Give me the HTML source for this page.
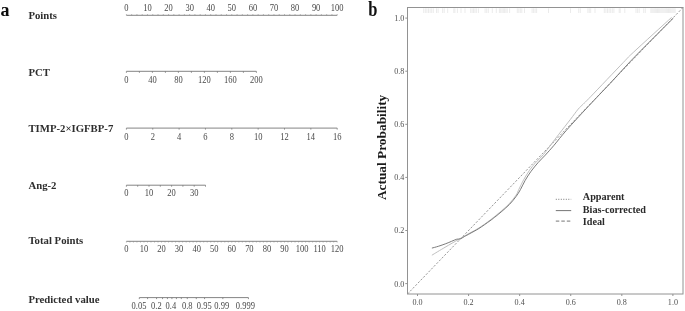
<!DOCTYPE html>
<html><head><meta charset="utf-8"><style>
html,body{margin:0;padding:0;background:#fff;}
body{width:685px;height:311px;overflow:hidden;}
svg{display:block;font-family:"Liberation Serif",serif;filter:grayscale(1) blur(0.35px);}
</style></head><body>
<svg width="685" height="311" viewBox="0 0 685 311">
<rect width="685" height="311" fill="#fff"/>
<text transform="translate(0.60,16.20) scale(1.0,1.03)" font-size="18" text-anchor="start" font-weight="bold" fill="#0a0a0a" >a</text>
<text transform="translate(368.20,15.80) scale(1.0,1.22)" font-size="16.5" text-anchor="start" font-weight="bold" fill="#111" >b</text>
<text transform="translate(28.40,18.80) scale(1.0,1.05)" font-size="10.75" text-anchor="start" font-weight="bold" fill="#2e2e2e" >Points</text>
<text transform="translate(28.40,76.20) scale(1.0,1.05)" font-size="10.75" text-anchor="start" font-weight="bold" fill="#2e2e2e" >PCT</text>
<text transform="translate(28.40,131.80) scale(1.0,1.05)" font-size="10.75" text-anchor="start" font-weight="bold" fill="#2e2e2e" >TIMP-2×IGFBP-7</text>
<text transform="translate(28.40,189.00) scale(1.0,1.05)" font-size="10.75" text-anchor="start" font-weight="bold" fill="#2e2e2e" >Ang-2</text>
<text transform="translate(28.40,244.40) scale(1.0,1.05)" font-size="10.75" text-anchor="start" font-weight="bold" fill="#2e2e2e" >Total Points</text>
<text transform="translate(28.40,302.70) scale(1.0,1.05)" font-size="10.75" text-anchor="start" font-weight="bold" fill="#2e2e2e" >Predicted value</text>
<line x1="126.40" y1="15.30" x2="337.20" y2="15.30" stroke="#767676" stroke-width="0.9" />
<line x1="126.40" y1="15.30" x2="126.40" y2="14.10" stroke="#8a8a8a" stroke-width="0.6" />
<line x1="131.67" y1="15.30" x2="131.67" y2="14.10" stroke="#8a8a8a" stroke-width="0.6" />
<line x1="136.94" y1="15.30" x2="136.94" y2="14.10" stroke="#8a8a8a" stroke-width="0.6" />
<line x1="142.21" y1="15.30" x2="142.21" y2="14.10" stroke="#8a8a8a" stroke-width="0.6" />
<line x1="147.48" y1="15.30" x2="147.48" y2="14.10" stroke="#8a8a8a" stroke-width="0.6" />
<line x1="152.75" y1="15.30" x2="152.75" y2="14.10" stroke="#8a8a8a" stroke-width="0.6" />
<line x1="158.02" y1="15.30" x2="158.02" y2="14.10" stroke="#8a8a8a" stroke-width="0.6" />
<line x1="163.29" y1="15.30" x2="163.29" y2="14.10" stroke="#8a8a8a" stroke-width="0.6" />
<line x1="168.56" y1="15.30" x2="168.56" y2="14.10" stroke="#8a8a8a" stroke-width="0.6" />
<line x1="173.83" y1="15.30" x2="173.83" y2="14.10" stroke="#8a8a8a" stroke-width="0.6" />
<line x1="179.10" y1="15.30" x2="179.10" y2="14.10" stroke="#8a8a8a" stroke-width="0.6" />
<line x1="184.37" y1="15.30" x2="184.37" y2="14.10" stroke="#8a8a8a" stroke-width="0.6" />
<line x1="189.64" y1="15.30" x2="189.64" y2="14.10" stroke="#8a8a8a" stroke-width="0.6" />
<line x1="194.91" y1="15.30" x2="194.91" y2="14.10" stroke="#8a8a8a" stroke-width="0.6" />
<line x1="200.18" y1="15.30" x2="200.18" y2="14.10" stroke="#8a8a8a" stroke-width="0.6" />
<line x1="205.45" y1="15.30" x2="205.45" y2="14.10" stroke="#8a8a8a" stroke-width="0.6" />
<line x1="210.72" y1="15.30" x2="210.72" y2="14.10" stroke="#8a8a8a" stroke-width="0.6" />
<line x1="215.99" y1="15.30" x2="215.99" y2="14.10" stroke="#8a8a8a" stroke-width="0.6" />
<line x1="221.26" y1="15.30" x2="221.26" y2="14.10" stroke="#8a8a8a" stroke-width="0.6" />
<line x1="226.53" y1="15.30" x2="226.53" y2="14.10" stroke="#8a8a8a" stroke-width="0.6" />
<line x1="231.80" y1="15.30" x2="231.80" y2="14.10" stroke="#8a8a8a" stroke-width="0.6" />
<line x1="237.07" y1="15.30" x2="237.07" y2="14.10" stroke="#8a8a8a" stroke-width="0.6" />
<line x1="242.34" y1="15.30" x2="242.34" y2="14.10" stroke="#8a8a8a" stroke-width="0.6" />
<line x1="247.61" y1="15.30" x2="247.61" y2="14.10" stroke="#8a8a8a" stroke-width="0.6" />
<line x1="252.88" y1="15.30" x2="252.88" y2="14.10" stroke="#8a8a8a" stroke-width="0.6" />
<line x1="258.15" y1="15.30" x2="258.15" y2="14.10" stroke="#8a8a8a" stroke-width="0.6" />
<line x1="263.42" y1="15.30" x2="263.42" y2="14.10" stroke="#8a8a8a" stroke-width="0.6" />
<line x1="268.69" y1="15.30" x2="268.69" y2="14.10" stroke="#8a8a8a" stroke-width="0.6" />
<line x1="273.96" y1="15.30" x2="273.96" y2="14.10" stroke="#8a8a8a" stroke-width="0.6" />
<line x1="279.23" y1="15.30" x2="279.23" y2="14.10" stroke="#8a8a8a" stroke-width="0.6" />
<line x1="284.50" y1="15.30" x2="284.50" y2="14.10" stroke="#8a8a8a" stroke-width="0.6" />
<line x1="289.77" y1="15.30" x2="289.77" y2="14.10" stroke="#8a8a8a" stroke-width="0.6" />
<line x1="295.04" y1="15.30" x2="295.04" y2="14.10" stroke="#8a8a8a" stroke-width="0.6" />
<line x1="300.31" y1="15.30" x2="300.31" y2="14.10" stroke="#8a8a8a" stroke-width="0.6" />
<line x1="305.58" y1="15.30" x2="305.58" y2="14.10" stroke="#8a8a8a" stroke-width="0.6" />
<line x1="310.85" y1="15.30" x2="310.85" y2="14.10" stroke="#8a8a8a" stroke-width="0.6" />
<line x1="316.12" y1="15.30" x2="316.12" y2="14.10" stroke="#8a8a8a" stroke-width="0.6" />
<line x1="321.39" y1="15.30" x2="321.39" y2="14.10" stroke="#8a8a8a" stroke-width="0.6" />
<line x1="326.66" y1="15.30" x2="326.66" y2="14.10" stroke="#8a8a8a" stroke-width="0.6" />
<line x1="331.93" y1="15.30" x2="331.93" y2="14.10" stroke="#8a8a8a" stroke-width="0.6" />
<line x1="337.20" y1="15.30" x2="337.20" y2="14.10" stroke="#8a8a8a" stroke-width="0.6" />
<text transform="translate(126.40,11.20) scale(1.0,1.2)" font-size="8.5" text-anchor="middle" font-weight="normal" fill="#484848" >0</text>
<text transform="translate(147.48,11.20) scale(1.0,1.2)" font-size="8.5" text-anchor="middle" font-weight="normal" fill="#484848" >10</text>
<text transform="translate(168.56,11.20) scale(1.0,1.2)" font-size="8.5" text-anchor="middle" font-weight="normal" fill="#484848" >20</text>
<text transform="translate(189.64,11.20) scale(1.0,1.2)" font-size="8.5" text-anchor="middle" font-weight="normal" fill="#484848" >30</text>
<text transform="translate(210.72,11.20) scale(1.0,1.2)" font-size="8.5" text-anchor="middle" font-weight="normal" fill="#484848" >40</text>
<text transform="translate(231.80,11.20) scale(1.0,1.2)" font-size="8.5" text-anchor="middle" font-weight="normal" fill="#484848" >50</text>
<text transform="translate(252.88,11.20) scale(1.0,1.2)" font-size="8.5" text-anchor="middle" font-weight="normal" fill="#484848" >60</text>
<text transform="translate(273.96,11.20) scale(1.0,1.2)" font-size="8.5" text-anchor="middle" font-weight="normal" fill="#484848" >70</text>
<text transform="translate(295.04,11.20) scale(1.0,1.2)" font-size="8.5" text-anchor="middle" font-weight="normal" fill="#484848" >80</text>
<text transform="translate(316.12,11.20) scale(1.0,1.2)" font-size="8.5" text-anchor="middle" font-weight="normal" fill="#484848" >90</text>
<text transform="translate(337.20,11.20) scale(1.0,1.2)" font-size="8.5" text-anchor="middle" font-weight="normal" fill="#484848" >100</text>
<line x1="126.40" y1="71.30" x2="256.40" y2="71.30" stroke="#767676" stroke-width="0.9" />
<line x1="126.40" y1="71.30" x2="126.40" y2="72.80" stroke="#767676" stroke-width="0.8" />
<line x1="139.40" y1="71.30" x2="139.40" y2="72.80" stroke="#767676" stroke-width="0.8" />
<line x1="152.40" y1="71.30" x2="152.40" y2="72.80" stroke="#767676" stroke-width="0.8" />
<line x1="165.40" y1="71.30" x2="165.40" y2="72.80" stroke="#767676" stroke-width="0.8" />
<line x1="178.40" y1="71.30" x2="178.40" y2="72.80" stroke="#767676" stroke-width="0.8" />
<line x1="191.40" y1="71.30" x2="191.40" y2="72.80" stroke="#767676" stroke-width="0.8" />
<line x1="204.40" y1="71.30" x2="204.40" y2="72.80" stroke="#767676" stroke-width="0.8" />
<line x1="217.40" y1="71.30" x2="217.40" y2="72.80" stroke="#767676" stroke-width="0.8" />
<line x1="230.40" y1="71.30" x2="230.40" y2="72.80" stroke="#767676" stroke-width="0.8" />
<line x1="243.40" y1="71.30" x2="243.40" y2="72.80" stroke="#767676" stroke-width="0.8" />
<line x1="256.40" y1="71.30" x2="256.40" y2="72.80" stroke="#767676" stroke-width="0.8" />
<text transform="translate(126.40,82.80) scale(1.0,1.2)" font-size="8.5" text-anchor="middle" font-weight="normal" fill="#484848" >0</text>
<text transform="translate(152.40,82.80) scale(1.0,1.2)" font-size="8.5" text-anchor="middle" font-weight="normal" fill="#484848" >40</text>
<text transform="translate(178.40,82.80) scale(1.0,1.2)" font-size="8.5" text-anchor="middle" font-weight="normal" fill="#484848" >80</text>
<text transform="translate(204.40,82.80) scale(1.0,1.2)" font-size="8.5" text-anchor="middle" font-weight="normal" fill="#484848" >120</text>
<text transform="translate(230.40,82.80) scale(1.0,1.2)" font-size="8.5" text-anchor="middle" font-weight="normal" fill="#484848" >160</text>
<text transform="translate(256.40,82.80) scale(1.0,1.2)" font-size="8.5" text-anchor="middle" font-weight="normal" fill="#484848" >200</text>
<line x1="126.40" y1="128.10" x2="337.20" y2="128.10" stroke="#767676" stroke-width="0.9" />
<line x1="126.40" y1="128.10" x2="126.40" y2="129.60" stroke="#767676" stroke-width="0.8" />
<text transform="translate(126.40,139.50) scale(1.0,1.2)" font-size="8.5" text-anchor="middle" font-weight="normal" fill="#484848" >0</text>
<line x1="152.75" y1="128.10" x2="152.75" y2="129.60" stroke="#767676" stroke-width="0.8" />
<text transform="translate(152.75,139.50) scale(1.0,1.2)" font-size="8.5" text-anchor="middle" font-weight="normal" fill="#484848" >2</text>
<line x1="179.10" y1="128.10" x2="179.10" y2="129.60" stroke="#767676" stroke-width="0.8" />
<text transform="translate(179.10,139.50) scale(1.0,1.2)" font-size="8.5" text-anchor="middle" font-weight="normal" fill="#484848" >4</text>
<line x1="205.45" y1="128.10" x2="205.45" y2="129.60" stroke="#767676" stroke-width="0.8" />
<text transform="translate(205.45,139.50) scale(1.0,1.2)" font-size="8.5" text-anchor="middle" font-weight="normal" fill="#484848" >6</text>
<line x1="231.80" y1="128.10" x2="231.80" y2="129.60" stroke="#767676" stroke-width="0.8" />
<text transform="translate(231.80,139.50) scale(1.0,1.2)" font-size="8.5" text-anchor="middle" font-weight="normal" fill="#484848" >8</text>
<line x1="258.15" y1="128.10" x2="258.15" y2="129.60" stroke="#767676" stroke-width="0.8" />
<text transform="translate(258.15,139.50) scale(1.0,1.2)" font-size="8.5" text-anchor="middle" font-weight="normal" fill="#484848" >10</text>
<line x1="284.50" y1="128.10" x2="284.50" y2="129.60" stroke="#767676" stroke-width="0.8" />
<text transform="translate(284.50,139.50) scale(1.0,1.2)" font-size="8.5" text-anchor="middle" font-weight="normal" fill="#484848" >12</text>
<line x1="310.85" y1="128.10" x2="310.85" y2="129.60" stroke="#767676" stroke-width="0.8" />
<text transform="translate(310.85,139.50) scale(1.0,1.2)" font-size="8.5" text-anchor="middle" font-weight="normal" fill="#484848" >14</text>
<line x1="337.20" y1="128.10" x2="337.20" y2="129.60" stroke="#767676" stroke-width="0.8" />
<text transform="translate(337.20,139.50) scale(1.0,1.2)" font-size="8.5" text-anchor="middle" font-weight="normal" fill="#484848" >16</text>
<line x1="126.40" y1="185.20" x2="205.50" y2="185.20" stroke="#767676" stroke-width="0.9" />
<line x1="126.40" y1="185.20" x2="126.40" y2="186.70" stroke="#767676" stroke-width="0.8" />
<line x1="137.70" y1="185.20" x2="137.70" y2="186.70" stroke="#767676" stroke-width="0.8" />
<line x1="149.00" y1="185.20" x2="149.00" y2="186.70" stroke="#767676" stroke-width="0.8" />
<line x1="160.30" y1="185.20" x2="160.30" y2="186.70" stroke="#767676" stroke-width="0.8" />
<line x1="171.60" y1="185.20" x2="171.60" y2="186.70" stroke="#767676" stroke-width="0.8" />
<line x1="182.90" y1="185.20" x2="182.90" y2="186.70" stroke="#767676" stroke-width="0.8" />
<line x1="194.20" y1="185.20" x2="194.20" y2="186.70" stroke="#767676" stroke-width="0.8" />
<line x1="205.50" y1="185.20" x2="205.50" y2="186.70" stroke="#767676" stroke-width="0.8" />
<text transform="translate(126.40,195.90) scale(1.0,1.2)" font-size="8.5" text-anchor="middle" font-weight="normal" fill="#484848" >0</text>
<text transform="translate(149.00,195.90) scale(1.0,1.2)" font-size="8.5" text-anchor="middle" font-weight="normal" fill="#484848" >10</text>
<text transform="translate(171.60,195.90) scale(1.0,1.2)" font-size="8.5" text-anchor="middle" font-weight="normal" fill="#484848" >20</text>
<text transform="translate(194.20,195.90) scale(1.0,1.2)" font-size="8.5" text-anchor="middle" font-weight="normal" fill="#484848" >30</text>
<line x1="126.40" y1="241.30" x2="337.20" y2="241.30" stroke="#767676" stroke-width="0.9" />
<line x1="126.40" y1="241.30" x2="126.40" y2="242.50" stroke="#8a8a8a" stroke-width="0.6" />
<line x1="129.91" y1="241.30" x2="129.91" y2="242.50" stroke="#8a8a8a" stroke-width="0.6" />
<line x1="133.43" y1="241.30" x2="133.43" y2="242.50" stroke="#8a8a8a" stroke-width="0.6" />
<line x1="136.94" y1="241.30" x2="136.94" y2="242.50" stroke="#8a8a8a" stroke-width="0.6" />
<line x1="140.45" y1="241.30" x2="140.45" y2="242.50" stroke="#8a8a8a" stroke-width="0.6" />
<line x1="143.97" y1="241.30" x2="143.97" y2="242.50" stroke="#8a8a8a" stroke-width="0.6" />
<line x1="147.48" y1="241.30" x2="147.48" y2="242.50" stroke="#8a8a8a" stroke-width="0.6" />
<line x1="150.99" y1="241.30" x2="150.99" y2="242.50" stroke="#8a8a8a" stroke-width="0.6" />
<line x1="154.51" y1="241.30" x2="154.51" y2="242.50" stroke="#8a8a8a" stroke-width="0.6" />
<line x1="158.02" y1="241.30" x2="158.02" y2="242.50" stroke="#8a8a8a" stroke-width="0.6" />
<line x1="161.53" y1="241.30" x2="161.53" y2="242.50" stroke="#8a8a8a" stroke-width="0.6" />
<line x1="165.05" y1="241.30" x2="165.05" y2="242.50" stroke="#8a8a8a" stroke-width="0.6" />
<line x1="168.56" y1="241.30" x2="168.56" y2="242.50" stroke="#8a8a8a" stroke-width="0.6" />
<line x1="172.07" y1="241.30" x2="172.07" y2="242.50" stroke="#8a8a8a" stroke-width="0.6" />
<line x1="175.59" y1="241.30" x2="175.59" y2="242.50" stroke="#8a8a8a" stroke-width="0.6" />
<line x1="179.10" y1="241.30" x2="179.10" y2="242.50" stroke="#8a8a8a" stroke-width="0.6" />
<line x1="182.61" y1="241.30" x2="182.61" y2="242.50" stroke="#8a8a8a" stroke-width="0.6" />
<line x1="186.13" y1="241.30" x2="186.13" y2="242.50" stroke="#8a8a8a" stroke-width="0.6" />
<line x1="189.64" y1="241.30" x2="189.64" y2="242.50" stroke="#8a8a8a" stroke-width="0.6" />
<line x1="193.15" y1="241.30" x2="193.15" y2="242.50" stroke="#8a8a8a" stroke-width="0.6" />
<line x1="196.67" y1="241.30" x2="196.67" y2="242.50" stroke="#8a8a8a" stroke-width="0.6" />
<line x1="200.18" y1="241.30" x2="200.18" y2="242.50" stroke="#8a8a8a" stroke-width="0.6" />
<line x1="203.69" y1="241.30" x2="203.69" y2="242.50" stroke="#8a8a8a" stroke-width="0.6" />
<line x1="207.21" y1="241.30" x2="207.21" y2="242.50" stroke="#8a8a8a" stroke-width="0.6" />
<line x1="210.72" y1="241.30" x2="210.72" y2="242.50" stroke="#8a8a8a" stroke-width="0.6" />
<line x1="214.23" y1="241.30" x2="214.23" y2="242.50" stroke="#8a8a8a" stroke-width="0.6" />
<line x1="217.75" y1="241.30" x2="217.75" y2="242.50" stroke="#8a8a8a" stroke-width="0.6" />
<line x1="221.26" y1="241.30" x2="221.26" y2="242.50" stroke="#8a8a8a" stroke-width="0.6" />
<line x1="224.77" y1="241.30" x2="224.77" y2="242.50" stroke="#8a8a8a" stroke-width="0.6" />
<line x1="228.29" y1="241.30" x2="228.29" y2="242.50" stroke="#8a8a8a" stroke-width="0.6" />
<line x1="231.80" y1="241.30" x2="231.80" y2="242.50" stroke="#8a8a8a" stroke-width="0.6" />
<line x1="235.31" y1="241.30" x2="235.31" y2="242.50" stroke="#8a8a8a" stroke-width="0.6" />
<line x1="238.83" y1="241.30" x2="238.83" y2="242.50" stroke="#8a8a8a" stroke-width="0.6" />
<line x1="242.34" y1="241.30" x2="242.34" y2="242.50" stroke="#8a8a8a" stroke-width="0.6" />
<line x1="245.85" y1="241.30" x2="245.85" y2="242.50" stroke="#8a8a8a" stroke-width="0.6" />
<line x1="249.37" y1="241.30" x2="249.37" y2="242.50" stroke="#8a8a8a" stroke-width="0.6" />
<line x1="252.88" y1="241.30" x2="252.88" y2="242.50" stroke="#8a8a8a" stroke-width="0.6" />
<line x1="256.39" y1="241.30" x2="256.39" y2="242.50" stroke="#8a8a8a" stroke-width="0.6" />
<line x1="259.91" y1="241.30" x2="259.91" y2="242.50" stroke="#8a8a8a" stroke-width="0.6" />
<line x1="263.42" y1="241.30" x2="263.42" y2="242.50" stroke="#8a8a8a" stroke-width="0.6" />
<line x1="266.93" y1="241.30" x2="266.93" y2="242.50" stroke="#8a8a8a" stroke-width="0.6" />
<line x1="270.45" y1="241.30" x2="270.45" y2="242.50" stroke="#8a8a8a" stroke-width="0.6" />
<line x1="273.96" y1="241.30" x2="273.96" y2="242.50" stroke="#8a8a8a" stroke-width="0.6" />
<line x1="277.47" y1="241.30" x2="277.47" y2="242.50" stroke="#8a8a8a" stroke-width="0.6" />
<line x1="280.99" y1="241.30" x2="280.99" y2="242.50" stroke="#8a8a8a" stroke-width="0.6" />
<line x1="284.50" y1="241.30" x2="284.50" y2="242.50" stroke="#8a8a8a" stroke-width="0.6" />
<line x1="288.01" y1="241.30" x2="288.01" y2="242.50" stroke="#8a8a8a" stroke-width="0.6" />
<line x1="291.53" y1="241.30" x2="291.53" y2="242.50" stroke="#8a8a8a" stroke-width="0.6" />
<line x1="295.04" y1="241.30" x2="295.04" y2="242.50" stroke="#8a8a8a" stroke-width="0.6" />
<line x1="298.55" y1="241.30" x2="298.55" y2="242.50" stroke="#8a8a8a" stroke-width="0.6" />
<line x1="302.07" y1="241.30" x2="302.07" y2="242.50" stroke="#8a8a8a" stroke-width="0.6" />
<line x1="305.58" y1="241.30" x2="305.58" y2="242.50" stroke="#8a8a8a" stroke-width="0.6" />
<line x1="309.09" y1="241.30" x2="309.09" y2="242.50" stroke="#8a8a8a" stroke-width="0.6" />
<line x1="312.61" y1="241.30" x2="312.61" y2="242.50" stroke="#8a8a8a" stroke-width="0.6" />
<line x1="316.12" y1="241.30" x2="316.12" y2="242.50" stroke="#8a8a8a" stroke-width="0.6" />
<line x1="319.63" y1="241.30" x2="319.63" y2="242.50" stroke="#8a8a8a" stroke-width="0.6" />
<line x1="323.15" y1="241.30" x2="323.15" y2="242.50" stroke="#8a8a8a" stroke-width="0.6" />
<line x1="326.66" y1="241.30" x2="326.66" y2="242.50" stroke="#8a8a8a" stroke-width="0.6" />
<line x1="330.17" y1="241.30" x2="330.17" y2="242.50" stroke="#8a8a8a" stroke-width="0.6" />
<line x1="333.69" y1="241.30" x2="333.69" y2="242.50" stroke="#8a8a8a" stroke-width="0.6" />
<line x1="337.20" y1="241.30" x2="337.20" y2="242.50" stroke="#8a8a8a" stroke-width="0.6" />
<text transform="translate(126.40,252.20) scale(1.0,1.2)" font-size="8.5" text-anchor="middle" font-weight="normal" fill="#484848" >0</text>
<text transform="translate(143.97,252.20) scale(1.0,1.2)" font-size="8.5" text-anchor="middle" font-weight="normal" fill="#484848" >10</text>
<text transform="translate(161.53,252.20) scale(1.0,1.2)" font-size="8.5" text-anchor="middle" font-weight="normal" fill="#484848" >20</text>
<text transform="translate(179.10,252.20) scale(1.0,1.2)" font-size="8.5" text-anchor="middle" font-weight="normal" fill="#484848" >30</text>
<text transform="translate(196.67,252.20) scale(1.0,1.2)" font-size="8.5" text-anchor="middle" font-weight="normal" fill="#484848" >40</text>
<text transform="translate(214.23,252.20) scale(1.0,1.2)" font-size="8.5" text-anchor="middle" font-weight="normal" fill="#484848" >50</text>
<text transform="translate(231.80,252.20) scale(1.0,1.2)" font-size="8.5" text-anchor="middle" font-weight="normal" fill="#484848" >60</text>
<text transform="translate(249.37,252.20) scale(1.0,1.2)" font-size="8.5" text-anchor="middle" font-weight="normal" fill="#484848" >70</text>
<text transform="translate(266.93,252.20) scale(1.0,1.2)" font-size="8.5" text-anchor="middle" font-weight="normal" fill="#484848" >80</text>
<text transform="translate(284.50,252.20) scale(1.0,1.2)" font-size="8.5" text-anchor="middle" font-weight="normal" fill="#484848" >90</text>
<text transform="translate(302.07,252.20) scale(1.0,1.2)" font-size="8.5" text-anchor="middle" font-weight="normal" fill="#484848" >100</text>
<text transform="translate(319.63,252.20) scale(1.0,1.2)" font-size="8.5" text-anchor="middle" font-weight="normal" fill="#484848" >110</text>
<text transform="translate(337.20,252.20) scale(1.0,1.2)" font-size="8.5" text-anchor="middle" font-weight="normal" fill="#484848" >120</text>
<line x1="139.30" y1="297.60" x2="248.45" y2="297.60" stroke="#767676" stroke-width="0.9" />
<line x1="139.30" y1="297.60" x2="139.30" y2="299.10" stroke="#767676" stroke-width="0.8" />
<line x1="147.58" y1="297.60" x2="147.58" y2="299.10" stroke="#767676" stroke-width="0.8" />
<line x1="156.56" y1="297.60" x2="156.56" y2="299.10" stroke="#767676" stroke-width="0.8" />
<line x1="162.54" y1="297.60" x2="162.54" y2="299.10" stroke="#767676" stroke-width="0.8" />
<line x1="167.43" y1="297.60" x2="167.43" y2="299.10" stroke="#767676" stroke-width="0.8" />
<line x1="171.92" y1="297.60" x2="171.92" y2="299.10" stroke="#767676" stroke-width="0.8" />
<line x1="176.42" y1="297.60" x2="176.42" y2="299.10" stroke="#767676" stroke-width="0.8" />
<line x1="181.31" y1="297.60" x2="181.31" y2="299.10" stroke="#767676" stroke-width="0.8" />
<line x1="187.28" y1="297.60" x2="187.28" y2="299.10" stroke="#767676" stroke-width="0.8" />
<line x1="196.27" y1="297.60" x2="196.27" y2="299.10" stroke="#767676" stroke-width="0.8" />
<line x1="204.55" y1="297.60" x2="204.55" y2="299.10" stroke="#767676" stroke-width="0.8" />
<line x1="222.84" y1="297.60" x2="222.84" y2="299.10" stroke="#767676" stroke-width="0.8" />
<line x1="248.45" y1="297.60" x2="248.45" y2="299.10" stroke="#767676" stroke-width="0.8" />
<text transform="translate(139.00,308.90) scale(1.0,1.2)" font-size="8.5" text-anchor="middle" font-weight="normal" fill="#484848" >0.05</text>
<text transform="translate(156.40,308.90) scale(1.0,1.2)" font-size="8.5" text-anchor="middle" font-weight="normal" fill="#484848" >0.2</text>
<text transform="translate(170.90,308.90) scale(1.0,1.2)" font-size="8.5" text-anchor="middle" font-weight="normal" fill="#484848" >0.4</text>
<text transform="translate(187.30,308.90) scale(1.0,1.2)" font-size="8.5" text-anchor="middle" font-weight="normal" fill="#484848" >0.8</text>
<text transform="translate(204.20,308.90) scale(1.0,1.2)" font-size="8.5" text-anchor="middle" font-weight="normal" fill="#484848" >0.95</text>
<text transform="translate(221.70,308.90) scale(1.0,1.2)" font-size="8.5" text-anchor="middle" font-weight="normal" fill="#484848" >0.99</text>
<text transform="translate(245.40,308.90) scale(1.0,1.2)" font-size="8.5" text-anchor="middle" font-weight="normal" fill="#484848" >0.999</text>
<line x1="423.70" y1="8.30" x2="423.70" y2="13.00" stroke="#e6e6e6" stroke-width="0.8" />
<line x1="425.30" y1="8.30" x2="425.30" y2="13.00" stroke="#e6e6e6" stroke-width="0.8" />
<line x1="426.90" y1="8.30" x2="426.90" y2="13.00" stroke="#e6e6e6" stroke-width="0.8" />
<line x1="428.50" y1="8.30" x2="428.50" y2="13.00" stroke="#e6e6e6" stroke-width="0.8" />
<line x1="430.10" y1="8.30" x2="430.10" y2="13.00" stroke="#e6e6e6" stroke-width="0.8" />
<line x1="431.70" y1="8.30" x2="431.70" y2="13.00" stroke="#e6e6e6" stroke-width="0.8" />
<line x1="433.30" y1="8.30" x2="433.30" y2="13.00" stroke="#e6e6e6" stroke-width="0.8" />
<line x1="436.50" y1="8.30" x2="436.50" y2="13.00" stroke="#e6e6e6" stroke-width="0.8" />
<line x1="438.10" y1="8.30" x2="438.10" y2="13.00" stroke="#e6e6e6" stroke-width="0.8" />
<line x1="442.60" y1="8.30" x2="442.60" y2="13.00" stroke="#e6e6e6" stroke-width="0.8" />
<line x1="444.20" y1="8.30" x2="444.20" y2="13.00" stroke="#e6e6e6" stroke-width="0.8" />
<line x1="447.70" y1="8.30" x2="447.70" y2="13.00" stroke="#e6e6e6" stroke-width="0.8" />
<line x1="453.80" y1="8.30" x2="453.80" y2="13.00" stroke="#e6e6e6" stroke-width="0.8" />
<line x1="454.90" y1="8.30" x2="454.90" y2="13.00" stroke="#e6e6e6" stroke-width="0.8" />
<line x1="457.40" y1="8.30" x2="457.40" y2="13.00" stroke="#e6e6e6" stroke-width="0.8" />
<line x1="461.00" y1="8.30" x2="461.00" y2="13.00" stroke="#e6e6e6" stroke-width="0.8" />
<line x1="465.00" y1="8.30" x2="465.00" y2="13.00" stroke="#e6e6e6" stroke-width="0.8" />
<line x1="470.70" y1="8.30" x2="470.70" y2="13.00" stroke="#e6e6e6" stroke-width="0.8" />
<line x1="472.10" y1="8.30" x2="472.10" y2="13.00" stroke="#e6e6e6" stroke-width="0.8" />
<line x1="473.50" y1="8.30" x2="473.50" y2="13.00" stroke="#e6e6e6" stroke-width="0.8" />
<line x1="474.90" y1="8.30" x2="474.90" y2="13.00" stroke="#e6e6e6" stroke-width="0.8" />
<line x1="476.30" y1="8.30" x2="476.30" y2="13.00" stroke="#e6e6e6" stroke-width="0.8" />
<line x1="478.40" y1="8.30" x2="478.40" y2="13.00" stroke="#e6e6e6" stroke-width="0.8" />
<line x1="485.10" y1="8.30" x2="485.10" y2="13.00" stroke="#e6e6e6" stroke-width="0.8" />
<line x1="486.70" y1="8.30" x2="486.70" y2="13.00" stroke="#e6e6e6" stroke-width="0.8" />
<line x1="488.30" y1="8.30" x2="488.30" y2="13.00" stroke="#e6e6e6" stroke-width="0.8" />
<line x1="492.30" y1="8.30" x2="492.30" y2="13.00" stroke="#e6e6e6" stroke-width="0.8" />
<line x1="496.30" y1="8.30" x2="496.30" y2="13.00" stroke="#e6e6e6" stroke-width="0.8" />
<line x1="499.40" y1="8.30" x2="499.40" y2="13.00" stroke="#e6e6e6" stroke-width="0.8" />
<line x1="500.70" y1="8.30" x2="500.70" y2="13.00" stroke="#e6e6e6" stroke-width="0.8" />
<line x1="502.00" y1="8.30" x2="502.00" y2="13.00" stroke="#e6e6e6" stroke-width="0.8" />
<line x1="503.30" y1="8.30" x2="503.30" y2="13.00" stroke="#e6e6e6" stroke-width="0.8" />
<line x1="504.60" y1="8.30" x2="504.60" y2="13.00" stroke="#e6e6e6" stroke-width="0.8" />
<line x1="505.90" y1="8.30" x2="505.90" y2="13.00" stroke="#e6e6e6" stroke-width="0.8" />
<line x1="507.20" y1="8.30" x2="507.20" y2="13.00" stroke="#e6e6e6" stroke-width="0.8" />
<line x1="509.60" y1="8.30" x2="509.60" y2="13.00" stroke="#e6e6e6" stroke-width="0.8" />
<line x1="517.30" y1="8.30" x2="517.30" y2="13.00" stroke="#e6e6e6" stroke-width="0.8" />
<line x1="518.80" y1="8.30" x2="518.80" y2="13.00" stroke="#e6e6e6" stroke-width="0.8" />
<line x1="520.30" y1="8.30" x2="520.30" y2="13.00" stroke="#e6e6e6" stroke-width="0.8" />
<line x1="521.80" y1="8.30" x2="521.80" y2="13.00" stroke="#e6e6e6" stroke-width="0.8" />
<line x1="524.50" y1="8.30" x2="524.50" y2="13.00" stroke="#e6e6e6" stroke-width="0.8" />
<line x1="532.10" y1="8.30" x2="532.10" y2="13.00" stroke="#e6e6e6" stroke-width="0.8" />
<line x1="533.60" y1="8.30" x2="533.60" y2="13.00" stroke="#e6e6e6" stroke-width="0.8" />
<line x1="535.10" y1="8.30" x2="535.10" y2="13.00" stroke="#e6e6e6" stroke-width="0.8" />
<line x1="536.60" y1="8.30" x2="536.60" y2="13.00" stroke="#e6e6e6" stroke-width="0.8" />
<line x1="548.50" y1="8.30" x2="548.50" y2="13.00" stroke="#e6e6e6" stroke-width="0.8" />
<line x1="570.50" y1="8.30" x2="570.50" y2="13.00" stroke="#e6e6e6" stroke-width="0.8" />
<line x1="578.70" y1="8.30" x2="578.70" y2="13.00" stroke="#e6e6e6" stroke-width="0.8" />
<line x1="580.30" y1="8.30" x2="580.30" y2="13.00" stroke="#e6e6e6" stroke-width="0.8" />
<line x1="587.90" y1="8.30" x2="587.90" y2="13.00" stroke="#e6e6e6" stroke-width="0.8" />
<line x1="589.30" y1="8.30" x2="589.30" y2="13.00" stroke="#e6e6e6" stroke-width="0.8" />
<line x1="590.70" y1="8.30" x2="590.70" y2="13.00" stroke="#e6e6e6" stroke-width="0.8" />
<line x1="595.00" y1="8.30" x2="595.00" y2="13.00" stroke="#e6e6e6" stroke-width="0.8" />
<line x1="604.30" y1="8.30" x2="604.30" y2="13.00" stroke="#e6e6e6" stroke-width="0.8" />
<line x1="605.90" y1="8.30" x2="605.90" y2="13.00" stroke="#e6e6e6" stroke-width="0.8" />
<line x1="607.50" y1="8.30" x2="607.50" y2="13.00" stroke="#e6e6e6" stroke-width="0.8" />
<line x1="609.10" y1="8.30" x2="609.10" y2="13.00" stroke="#e6e6e6" stroke-width="0.8" />
<line x1="610.70" y1="8.30" x2="610.70" y2="13.00" stroke="#e6e6e6" stroke-width="0.8" />
<line x1="612.30" y1="8.30" x2="612.30" y2="13.00" stroke="#e6e6e6" stroke-width="0.8" />
<line x1="613.90" y1="8.30" x2="613.90" y2="13.00" stroke="#e6e6e6" stroke-width="0.8" />
<line x1="619.20" y1="8.30" x2="619.20" y2="13.00" stroke="#e6e6e6" stroke-width="0.8" />
<line x1="620.20" y1="8.30" x2="620.20" y2="13.00" stroke="#e6e6e6" stroke-width="0.8" />
<line x1="624.80" y1="8.30" x2="624.80" y2="13.00" stroke="#e6e6e6" stroke-width="0.8" />
<line x1="636.00" y1="8.30" x2="636.00" y2="13.00" stroke="#e6e6e6" stroke-width="0.8" />
<line x1="637.60" y1="8.30" x2="637.60" y2="13.00" stroke="#e6e6e6" stroke-width="0.8" />
<line x1="639.20" y1="8.30" x2="639.20" y2="13.00" stroke="#e6e6e6" stroke-width="0.8" />
<line x1="643.70" y1="8.30" x2="643.70" y2="13.00" stroke="#e6e6e6" stroke-width="0.8" />
<line x1="645.30" y1="8.30" x2="645.30" y2="13.00" stroke="#e6e6e6" stroke-width="0.8" />
<line x1="650.90" y1="8.30" x2="650.90" y2="13.00" stroke="#e6e6e6" stroke-width="0.8" />
<line x1="652.00" y1="8.30" x2="652.00" y2="13.00" stroke="#e6e6e6" stroke-width="0.8" />
<line x1="653.10" y1="8.30" x2="653.10" y2="13.00" stroke="#e6e6e6" stroke-width="0.8" />
<line x1="654.20" y1="8.30" x2="654.20" y2="13.00" stroke="#e6e6e6" stroke-width="0.8" />
<line x1="655.30" y1="8.30" x2="655.30" y2="13.00" stroke="#e6e6e6" stroke-width="0.8" />
<line x1="656.40" y1="8.30" x2="656.40" y2="13.00" stroke="#e6e6e6" stroke-width="0.8" />
<line x1="657.50" y1="8.30" x2="657.50" y2="13.00" stroke="#e6e6e6" stroke-width="0.8" />
<line x1="658.60" y1="8.30" x2="658.60" y2="13.00" stroke="#e6e6e6" stroke-width="0.8" />
<line x1="659.70" y1="8.30" x2="659.70" y2="13.00" stroke="#e6e6e6" stroke-width="0.8" />
<line x1="660.80" y1="8.30" x2="660.80" y2="13.00" stroke="#e6e6e6" stroke-width="0.8" />
<line x1="661.90" y1="8.30" x2="661.90" y2="13.00" stroke="#e6e6e6" stroke-width="0.8" />
<line x1="663.00" y1="8.30" x2="663.00" y2="13.00" stroke="#e6e6e6" stroke-width="0.8" />
<line x1="664.10" y1="8.30" x2="664.10" y2="13.00" stroke="#e6e6e6" stroke-width="0.8" />
<line x1="665.20" y1="8.30" x2="665.20" y2="13.00" stroke="#e6e6e6" stroke-width="0.8" />
<line x1="666.30" y1="8.30" x2="666.30" y2="13.00" stroke="#e6e6e6" stroke-width="0.8" />
<line x1="667.40" y1="8.30" x2="667.40" y2="13.00" stroke="#e6e6e6" stroke-width="0.8" />
<line x1="668.50" y1="8.30" x2="668.50" y2="13.00" stroke="#e6e6e6" stroke-width="0.8" />
<line x1="669.60" y1="8.30" x2="669.60" y2="13.00" stroke="#e6e6e6" stroke-width="0.8" />
<line x1="670.70" y1="8.30" x2="670.70" y2="13.00" stroke="#e6e6e6" stroke-width="0.8" />
<line x1="671.80" y1="8.30" x2="671.80" y2="13.00" stroke="#e6e6e6" stroke-width="0.8" />
<line x1="672.90" y1="8.30" x2="672.90" y2="13.00" stroke="#e6e6e6" stroke-width="0.8" />
<line x1="674.00" y1="8.30" x2="674.00" y2="13.00" stroke="#e6e6e6" stroke-width="0.8" />
<line x1="675.10" y1="8.30" x2="675.10" y2="13.00" stroke="#e6e6e6" stroke-width="0.8" />
<line x1="407.50" y1="294.00" x2="683.00" y2="7.50" stroke="#7e7e7e" stroke-width="0.8" stroke-dasharray="2.2,1.6"/>
<path d="M431.90,255.20 C434.08,253.88 440.52,249.95 445.00,247.30 C449.48,244.65 454.75,241.63 458.80,239.30 C462.85,236.97 465.95,235.18 469.30,233.30 C472.65,231.42 475.45,230.18 478.90,228.00 C482.35,225.82 486.17,223.12 490.00,220.20 C493.83,217.28 498.63,213.32 501.90,210.50 C505.17,207.68 507.25,205.85 509.60,203.30 C511.95,200.75 514.43,197.57 516.00,195.20 C517.57,192.83 517.72,191.68 519.00,189.10 C520.28,186.52 521.95,182.83 523.70,179.70 C525.45,176.57 527.58,173.07 529.50,170.30 C531.42,167.53 532.87,165.73 535.20,163.10 C537.53,160.47 540.87,157.60 543.50,154.50 C546.13,151.40 548.43,147.88 551.00,144.50 C553.57,141.12 555.67,138.38 558.90,134.20 C562.13,130.02 567.18,123.58 570.40,119.40 C573.62,115.22 576.05,111.67 578.20,109.10 C580.35,106.53 581.17,106.13 583.30,104.00 C585.43,101.87 584.35,103.20 591.00,96.30 C597.65,89.40 616.15,69.92 623.20,62.60 C630.25,55.28 625.23,59.93 633.30,52.40 C641.37,44.87 665.22,23.23 671.60,17.40" fill="none" stroke="#b8b8b8" stroke-width="0.9" stroke-linejoin="round"/>
<path d="M431.90,248.10 C432.97,247.80 435.98,247.03 438.30,246.30 C440.62,245.57 443.58,244.53 445.80,243.70 C448.02,242.87 449.77,242.05 451.60,241.30 C453.43,240.55 455.35,239.60 456.80,239.20 C458.25,238.80 459.05,239.33 460.30,238.90 C461.55,238.47 462.68,237.50 464.30,236.60 C465.92,235.70 467.57,234.85 470.00,233.50 C472.43,232.15 475.57,230.62 478.90,228.50 C482.23,226.38 487.15,222.85 490.00,220.80 C492.85,218.75 494.02,217.78 496.00,216.20 C497.98,214.62 499.63,213.28 501.90,211.30 C504.17,209.32 507.25,206.75 509.60,204.30 C511.95,201.85 514.18,199.07 516.00,196.60 C517.82,194.13 518.98,192.18 520.50,189.50 C522.02,186.82 523.37,183.50 525.10,180.50 C526.83,177.50 528.73,174.48 530.90,171.50 C533.07,168.52 535.70,165.33 538.10,162.60 C540.50,159.87 542.65,157.98 545.30,155.10 C547.95,152.22 550.47,149.45 554.00,145.30 C557.53,141.15 560.80,136.67 566.50,130.20 C572.20,123.73 580.95,114.28 588.20,106.50 C595.45,98.72 602.88,91.12 610.00,83.50 C617.12,75.88 624.00,68.05 630.90,60.80 C637.80,53.55 644.33,47.10 651.40,40.00 C658.47,32.90 669.65,21.83 673.30,18.20" fill="none" stroke="#747474" stroke-width="0.95" stroke-linejoin="round"/>
<rect x="407.5" y="7.5" width="275.50" height="286.50" fill="none" stroke="#929292" stroke-width="1.0"/>
<line x1="405.30" y1="283.60" x2="407.50" y2="283.60" stroke="#929292" stroke-width="1.0" />
<text transform="translate(404.40,286.50) scale(1.0,1.1)" font-size="8.1" text-anchor="end" font-weight="normal" fill="#505050" >0.0</text>
<line x1="405.30" y1="230.50" x2="407.50" y2="230.50" stroke="#929292" stroke-width="1.0" />
<text transform="translate(404.40,233.40) scale(1.0,1.1)" font-size="8.1" text-anchor="end" font-weight="normal" fill="#505050" >0.2</text>
<line x1="405.30" y1="177.40" x2="407.50" y2="177.40" stroke="#929292" stroke-width="1.0" />
<text transform="translate(404.40,180.30) scale(1.0,1.1)" font-size="8.1" text-anchor="end" font-weight="normal" fill="#505050" >0.4</text>
<line x1="405.30" y1="124.30" x2="407.50" y2="124.30" stroke="#929292" stroke-width="1.0" />
<text transform="translate(404.40,127.20) scale(1.0,1.1)" font-size="8.1" text-anchor="end" font-weight="normal" fill="#505050" >0.6</text>
<line x1="405.30" y1="71.20" x2="407.50" y2="71.20" stroke="#929292" stroke-width="1.0" />
<text transform="translate(404.40,74.10) scale(1.0,1.1)" font-size="8.1" text-anchor="end" font-weight="normal" fill="#505050" >0.8</text>
<line x1="405.30" y1="18.10" x2="407.50" y2="18.10" stroke="#929292" stroke-width="1.0" />
<text transform="translate(404.40,21.00) scale(1.0,1.1)" font-size="8.1" text-anchor="end" font-weight="normal" fill="#505050" >1.0</text>
<line x1="417.50" y1="294.00" x2="417.50" y2="296.00" stroke="#929292" stroke-width="1.0" />
<text transform="translate(417.50,304.60) scale(1.0,1.1)" font-size="8.1" text-anchor="middle" font-weight="normal" fill="#505050" >0.0</text>
<line x1="468.58" y1="294.00" x2="468.58" y2="296.00" stroke="#929292" stroke-width="1.0" />
<text transform="translate(468.58,304.60) scale(1.0,1.1)" font-size="8.1" text-anchor="middle" font-weight="normal" fill="#505050" >0.2</text>
<line x1="519.66" y1="294.00" x2="519.66" y2="296.00" stroke="#929292" stroke-width="1.0" />
<text transform="translate(519.66,304.60) scale(1.0,1.1)" font-size="8.1" text-anchor="middle" font-weight="normal" fill="#505050" >0.4</text>
<line x1="570.74" y1="294.00" x2="570.74" y2="296.00" stroke="#929292" stroke-width="1.0" />
<text transform="translate(570.74,304.60) scale(1.0,1.1)" font-size="8.1" text-anchor="middle" font-weight="normal" fill="#505050" >0.6</text>
<line x1="621.82" y1="294.00" x2="621.82" y2="296.00" stroke="#929292" stroke-width="1.0" />
<text transform="translate(621.82,304.60) scale(1.0,1.1)" font-size="8.1" text-anchor="middle" font-weight="normal" fill="#505050" >0.8</text>
<line x1="672.90" y1="294.00" x2="672.90" y2="296.00" stroke="#929292" stroke-width="1.0" />
<text transform="translate(672.90,304.60) scale(1.0,1.1)" font-size="8.1" text-anchor="middle" font-weight="normal" fill="#505050" >1.0</text>
<text font-size="12.6" font-weight="bold" fill="#1a1a1a" text-anchor="middle" transform="translate(385.7,147.4) rotate(-90) scale(1.06,1)">Actual Probability</text>
<line x1="555.80" y1="199.30" x2="571.20" y2="199.30" stroke="#666" stroke-width="0.9" stroke-dasharray="1,1.5"/>
<text transform="translate(582.80,199.50) scale(1.0,1.03)" font-size="10.2" text-anchor="start" font-weight="bold" fill="#2a2a2a" >Apparent</text>
<line x1="555.80" y1="210.60" x2="571.20" y2="210.60" stroke="#666" stroke-width="0.9" />
<text transform="translate(582.80,212.80) scale(1.0,1.03)" font-size="10.2" text-anchor="start" font-weight="bold" fill="#2a2a2a" >Bias-corrected</text>
<line x1="555.80" y1="221.10" x2="571.20" y2="221.10" stroke="#666" stroke-width="0.9" stroke-dasharray="3.5,2"/>
<text transform="translate(582.80,225.30) scale(1.0,1.03)" font-size="10.2" text-anchor="start" font-weight="bold" fill="#2a2a2a" >Ideal</text>
</svg>
</body></html>
